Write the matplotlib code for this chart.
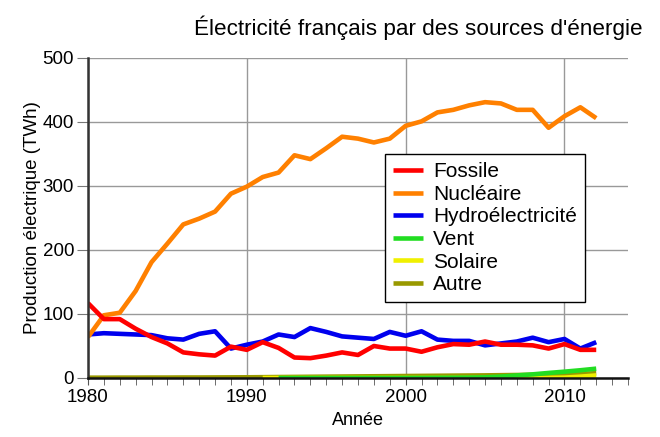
import numpy as np
import matplotlib.pyplot as plt
from matplotlib.ticker import MultipleLocator

plt.rcParams['font.family'] = ['Liberation Sans', 'DejaVu Sans']

years = list(range(1980, 2013))

fossile = [117, 92, 92, 77, 64, 54, 40, 37, 35, 49, 44, 56, 47, 32, 31, 35, 40, 36,
           50, 46, 46, 41, 48, 53, 52, 57, 52, 52, 51, 46, 53, 44, 44]
nucleaire = [64, 98, 102, 136, 181, 210, 240, 249, 260, 288, 299, 314, 321, 348, 342, 359,
             377, 374, 368, 374, 394, 401, 415, 419, 426, 431, 429, 419, 419, 391, 409, 423, 406]
hydro = [68, 70, 69, 68, 67, 62, 60, 69, 73, 46, 52, 57, 68, 64, 78, 72, 65, 63, 61,
         72, 66, 73, 60, 58, 58, 51, 54, 57, 63, 56, 61, 46, 56]
vent = [np.nan] * 12 + [0, 0, 0, 0, 0, 0, 0, 0, 0, 0.1, 0.3, 0.4, 0.6, 1.0, 2.2, 4.0,
                        5.7, 7.9, 9.9, 12.1, 14.6]
solaire = [np.nan] * 11 + [0] * 18 + [0.2, 0.6, 2.1, 4.0]
autre = [0.5, 0.5, 0.6, 0.6, 0.7, 0.7, 0.8, 0.8, 0.9, 1.0, 1.1, 1.3, 1.5, 1.7, 1.9, 2.1,
         2.3, 2.5, 2.7, 2.9, 3.1, 3.3, 3.5, 3.7, 3.9, 4.1, 4.4, 4.7, 5.0, 5.4, 5.9, 6.5, 7.5]

series = [
    ("Fossile", fossile, "#ff0000"),
    ("Nucléaire", nucleaire, "#ff8000"),
    ("Hydroélectricité", hydro, "#0000ee"),
    ("Vent", vent, "#22dd22"),
    ("Solaire", solaire, "#f0f000"),
    ("Autre", autre, "#999900"),
]

fig = plt.figure(figsize=(6.6, 4.37), dpi=100)
ax = fig.add_axes([88 / 660, 1 - 378 / 437, 540 / 660, 320 / 437])

handles = {}
# draw in reverse so fossil ends up on top
for name, vals, col in reversed(series):
    line, = ax.plot(years, vals, color=col, lw=3.3, label=name, solid_capstyle='butt')
    handles[name] = line

ax.set_xlim(1980, 2014)
ax.set_ylim(0, 500)
ax.xaxis.set_major_locator(MultipleLocator(10))
ax.xaxis.set_minor_locator(MultipleLocator(1))
ax.yaxis.set_major_locator(MultipleLocator(100))

ax.grid(True, which='major', color='#999999', lw=1)
ax.set_axisbelow(True)
for s in ['top', 'right']:
    ax.spines[s].set_visible(False)
ax.spines['left'].set_color('#333333')
ax.spines['left'].set_linewidth(1.8)
ax.spines['bottom'].set_color('#111111')
ax.spines['bottom'].set_linewidth(1.8)

ax.tick_params(axis='x', which='both', length=5, color='#555555', labelsize=13.5, pad=3)
ax.tick_params(axis='y', length=8, color='#777777', labelsize=13.5, pad=2)

ax.set_xlabel("Année", fontsize=13, labelpad=4)
ax.set_ylabel("Production électrique (TWh)", fontsize=13.5, labelpad=1)
fig.text(0.634, 0.937, "Électricité français par des sources d'énergie",
         ha='center', va='center', fontsize=16.2)

leg = ax.legend([handles[n] for n, _, _ in series], [n for n, _, _ in series],
                loc='upper left', bbox_to_anchor=(0.55, 0.70), borderaxespad=0,
                fontsize=15, frameon=True, fancybox=False, edgecolor='black',
                framealpha=1, handlelength=1.4, labelspacing=0.17, borderpad=0.4,
                handletextpad=0.5)
leg.get_frame().set_linewidth(1)

fig.savefig("out.png", dpi=100)
